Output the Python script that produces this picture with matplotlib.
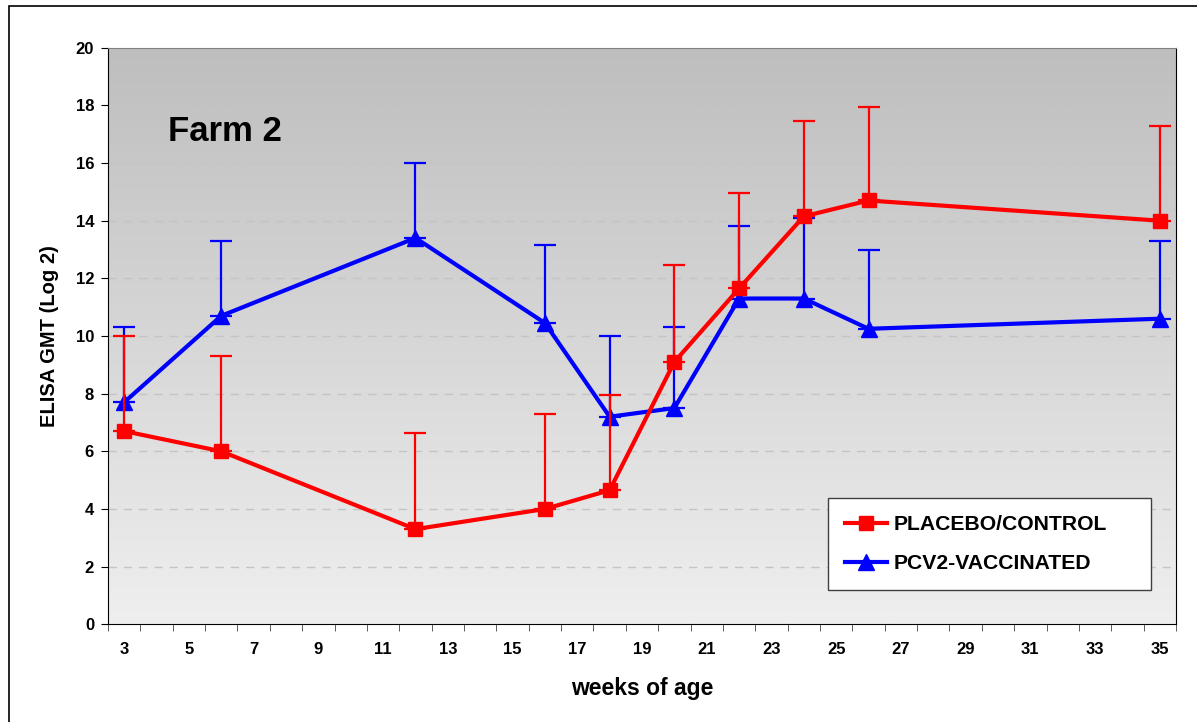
import numpy as np
import matplotlib
matplotlib.use("Agg")
import matplotlib.pyplot as plt
from matplotlib.patches import Rectangle
from matplotlib.lines import Line2D

plt.rcParams['font.family'] = ['Liberation Sans', 'DejaVu Sans']
plt.rcParams['font.weight'] = 'bold'

weeks = [3, 6, 12, 16, 18, 20, 22, 24, 26, 35]
placebo_mean = [6.7, 6.0, 3.3, 4.0, 4.65, 9.1, 11.65, 14.15, 14.7, 14.0]
placebo_err = [3.3, 3.3, 3.35, 3.3, 3.3, 3.35, 3.3, 3.3, 3.25, 3.3]
vacc_mean = [7.7, 10.7, 13.4, 10.45, 7.2, 7.5, 11.3, 11.3, 10.25, 10.6]
vacc_err = [2.6, 2.6, 2.6, 2.7, 2.8, 2.8, 2.5, 2.8, 2.75, 2.7]
tick_weeks = list(range(3, 36, 2))

fig = plt.figure(figsize=(11.97, 7.22), dpi=100)
ax = fig.add_axes([108/1197, 1 - 624.3/722, 1068/1197, 576.6/722])

# gradient background
grad = np.linspace(0, 1, 256).reshape(-1, 1)
ax.imshow(grad, cmap=matplotlib.colors.LinearSegmentedColormap.from_list(
    'bg', ['#bebebe', '#efefef']), aspect='auto', extent=[0, 1, 0, 1],
    transform=ax.transAxes, zorder=0, origin='upper')

ax.errorbar(weeks, vacc_mean, yerr=[np.zeros(len(weeks)), vacc_err],
            color='#0000ff', lw=3, marker='^', ms=11, elinewidth=1.6,
            capsize=8, capthick=1.6, zorder=3)
ax.errorbar(weeks, placebo_mean, yerr=[np.zeros(len(weeks)), placebo_err],
            color='#ff0000', lw=3, marker='s', ms=10.5, elinewidth=1.6,
            capsize=8, capthick=1.6, zorder=4)

ax.set_xlim(2.5, 35.5)
ax.set_ylim(0, 20)
ax.set_yticks(range(0, 21, 2))
ax.set_xticks(tick_weeks)
ax.set_xticks(np.arange(2.5, 36, 1), minor=True)
ax.tick_params(axis='x', which='major', length=0, pad=13, labelsize=12)
ax.tick_params(axis='x', which='minor', length=5, direction='out', color='#444444')
ax.tick_params(axis='y', length=5, direction='out', pad=5, labelsize=12)

for y in range(2, 20, 2):
    ax.axhline(y, color='#c4c4c4', lw=1, ls=(0, (6, 5)), zorder=1)

ax.spines['top'].set_color('#808080')
for s in ['left', 'bottom', 'right']:
    ax.spines[s].set_color('black')

ax.set_xlabel('weeks of age', fontsize=16.5, fontweight='bold', labelpad=14)
ax.set_ylabel('ELISA GMT (Log 2)', fontsize=14.5, fontweight='bold', labelpad=12)

ax.text(0.056, 0.855, 'Farm 2', transform=ax.transAxes, fontsize=25,
        fontweight='bold', va='center', ha='left')

handles = [Line2D([], [], color='#ff0000', lw=3, marker='s', ms=10.5),
           Line2D([], [], color='#0000ff', lw=3, marker='^', ms=11)]
labels = ['PLACEBO/CONTROL', 'PCV2-VACCINATED']
# legend box spans roughly x 828..1151 px, y 500..590 px
leg = ax.legend(handles, labels, loc='lower left',
                bbox_to_anchor=(0.674, 0.0595, 0.303, 0.156), mode='expand',
                fontsize=15.2, frameon=True, fancybox=False, handlelength=2.0,
                labelspacing=0.95, borderpad=0.8, handletextpad=0.3,
                borderaxespad=0)
leg.get_frame().set_edgecolor('#404040')
leg.get_frame().set_facecolor('white')
leg.get_frame().set_alpha(1)
leg.get_frame().set_linewidth(1)

fig.patches.append(Rectangle((9/1197, -0.1), 1.2, 1.1 - 6/722,
                             transform=fig.transFigure, fill=False,
                             ec='black', lw=1.2))

fig.savefig('out.png', dpi=100)
